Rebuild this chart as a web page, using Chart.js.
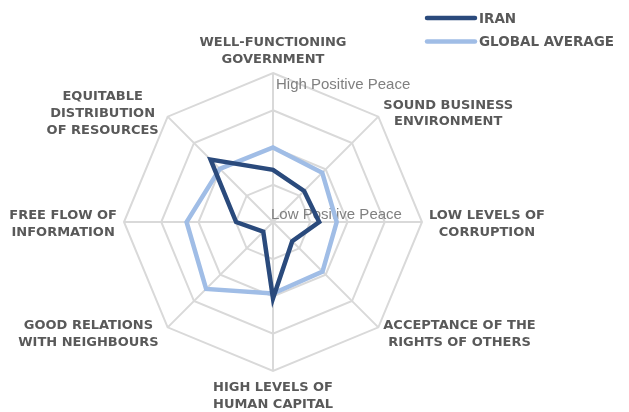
<!DOCTYPE html>
<html>
<head>
<meta charset="utf-8">
<script src="https://cdn.jsdelivr.net/npm/chart.js@4"></script>
<style>
  html, body { margin: 0; padding: 0; background: #fff; }
  #wrap { width: 629px; height: 412px; position: relative; }
</style>
</head>
<body>
<div id="wrap"><canvas id="peaceChart"></canvas></div>
<script>
// --- Dados ---
const pillars = [
  ['WELL-FUNCTIONING', 'GOVERNMENT'],
  ['SOUND BUSINESS', 'ENVIRONMENT'],
  ['LOW LEVELS OF', 'CORRUPTION'],
  ['ACCEPTANCE OF THE', 'RIGHTS OF OTHERS'],
  ['HIGH LEVELS OF', 'HUMAN CAPITAL'],
  ['GOOD RELATIONS', 'WITH NEIGHBOURS'],
  ['FREE FLOW OF', 'INFORMATION'],
  ['EQUITABLE', 'DISTRIBUTION', 'OF RESOURCES']
];
const iranValues = [1.40, 1.18, 1.24, 0.73, 2.05, 0.37, 0.99, 2.37];
const globalValues = [2.00, 1.87, 1.71, 1.88, 1.92, 2.54, 2.32, 2.02];
const seriesNames = ['IRAN', 'GLOBAL AVERAGE'];
const scaleMin = 0;
const scaleMax = 4;
const scaleLabels = ['Low Positive Peace', 'High Positive Peace'];

const labelFont = 'bold 13px "DejaVu Sans", sans-serif';
const labelColor = '#595959';

// rótulos dos eixos, legenda e textos da escala
const peaceDecor = {
  id: 'peaceDecor',
  beforeDatasetsDraw(chart) {
    const scale = chart.scales.r;
    const ctx = chart.ctx;
    ctx.save();
    ctx.font = '15px "Liberation Sans", Arial, sans-serif';
    ctx.fillStyle = '#808080';
    ctx.textAlign = 'left';
    ctx.textBaseline = 'middle';
    const low = scale.getPointPosition(0, scale.getDistanceFromCenterForValue(scaleMin));
    ctx.fillText(scaleLabels[0], low.x - 2, low.y - 7);
    const high = scale.getPointPosition(0, scale.getDistanceFromCenterForValue(scaleMax));
    ctx.fillText(scaleLabels[1], high.x + 3, high.y + 12);
    ctx.restore();
  },
  afterDraw(chart) {
    const scale = chart.scales.r;
    const ctx = chart.ctx;
    const lineH = 16.8;
    ctx.save();
    ctx.font = labelFont;
    ctx.fillStyle = labelColor;
    ctx.textAlign = 'center';
    ctx.textBaseline = 'middle';
    pillars.forEach((lines, i) => {
      const n = pillars.length;
      const angle = (i / n) * 360;
      const p = scale.getPointPosition(i, scale.drawingArea + 7);
      const w = Math.max(...lines.map(l => ctx.measureText(l).width));
      const h = lines.length * lineH;
      let cx = p.x, top = p.y - h / 2 + 2;
      if (angle === 0) { top = p.y - h + 2; }
      else if (angle === 180) { top = p.y + 1; }
      else if (angle < 180) { cx = p.x + w / 2; }
      else { cx = p.x - w / 2 - (angle % 90 ? 4 : 0); }
      lines.forEach((l, k) => ctx.fillText(l, cx, top + lineH * k + lineH / 2));
    });

    // legenda
    ctx.font = 'bold 13.5px "DejaVu Sans", sans-serif';
    chart.data.datasets.forEach((ds, i) => {
      const y = 18 + i * 23.5;
      ctx.strokeStyle = ds.borderColor;
      ctx.lineWidth = 4.5;
      ctx.lineCap = 'round';
      ctx.beginPath();
      ctx.moveTo(427, y);
      ctx.lineTo(475, y);
      ctx.stroke();
      ctx.textAlign = 'left';
      ctx.fillText(ds.label, 479, y + 1);
    });
    ctx.restore();
  }
};

new Chart(document.getElementById('peaceChart'), {
  type: 'radar',
  data: {
    labels: pillars,
    datasets: [
      {
        label: seriesNames[0],
        data: iranValues,
        borderColor: '#2a4a7c',
        borderWidth: 4.5,
        borderJoinStyle: 'miter',
        fill: false,
        pointRadius: 0,
        tension: 0
      },
      {
        label: seriesNames[1],
        data: globalValues,
        borderColor: '#a0bde6',
        borderWidth: 4.5,
        borderJoinStyle: 'miter',
        fill: false,
        pointRadius: 0,
        tension: 0
      }
    ]
  },
  options: {
    responsive: true,
    maintainAspectRatio: false,
    animation: false,
    layout: { padding: { top: 73, bottom: 41, left: 124, right: 207 } },
    plugins: { legend: { display: false }, tooltip: { enabled: false } },
    scales: {
      r: {
        min: scaleMin,
        max: scaleMax,
        ticks: { display: false, stepSize: 1 },
        pointLabels: { display: false },
        grid: { color: '#d9d9d9', lineWidth: 2, circular: false },
        angleLines: { color: '#d9d9d9', lineWidth: 2 }
      }
    }
  },
  plugins: [peaceDecor]
});
</script>
</body>
</html>
